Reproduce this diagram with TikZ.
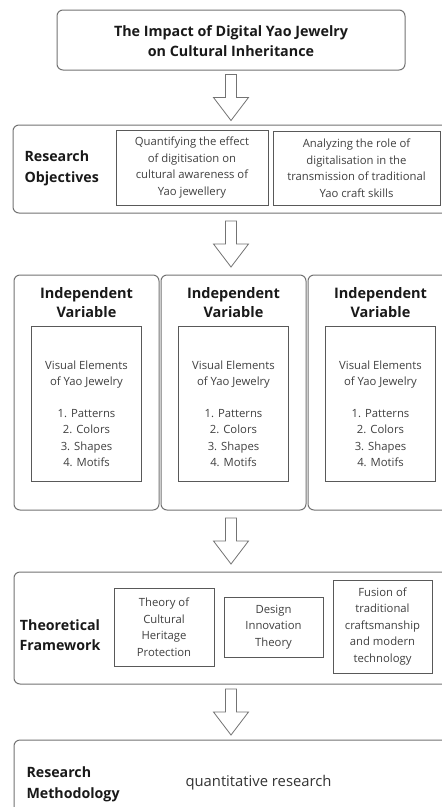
\documentclass[tikz,border=0pt]{standalone}
\usepackage{fontspec}
\setmainfont{Open Sans}
\usetikzlibrary{calc}
\tikzset{
  outerbox/.style={draw=black!55, line width=1pt, rounded corners=6pt, inner sep=0pt},
  innerbox/.style={draw=black!65, line width=0.8pt, inner sep=0pt},
  bodytext/.style={align=center, text=black!75, font=\fontsize{11.3}{16.5}\selectfont},
  headtext/.style={align=center, text=black!90, font=\bfseries\fontsize{14.5}{19}\selectfont},
  sidetext/.style={align=left, text=black!90, font=\bfseries\fontsize{14.2}{21}\selectfont},
  blockarrow/.style={draw=black!55, line width=0.8pt, fill=white, line join=miter}
}
% hollow down arrow halfway between two boxes
\newcommand{\bigarrow}[2]{%
  \draw[blockarrow] let \p1=($(#1.south)!0.5!(#2.north)$), \p2=(title.center) in
    (\x2-5.5pt,\y1+23pt) -- (\x2-5.5pt,\y1) -- (\x2-17.5pt,\y1) -- (\x2,\y1-23pt)
    -- (\x2+17.5pt,\y1) -- (\x2+5.5pt,\y1) -- (\x2+5.5pt,\y1+23pt) -- cycle;}
\begin{document}
\begin{tikzpicture}[x=1pt,y=-1pt]
  \fill[white] (0,0) rectangle (442,807);
  \clip (0,0) rectangle (442,807);
  \node[outerbox, minimum width=348pt, minimum height=60pt] (title) at (231,40) {};
  \node[headtext, font=\bfseries\fontsize{14.3}{20}\selectfont] (titletext) at (231,41.5)
        {The Impact of Digital Yao Jewelry\\on Cultural Inheritance};
%	research objectives
  \node[outerbox, minimum width=440pt, minimum height=88pt] (obj) at (233,169) {};
  \node[sidetext, anchor=west] (objlabel) at (21,168) {Research\\Objectives};
  \node[innerbox, minimum width=152pt, minimum height=75pt, bodytext] (obj1) at (192,167.5)
        {Quantifying the effect\\of digitisation on\\cultural awareness of\\Yao jewellery};
  \node[innerbox, minimum width=167pt, minimum height=74pt, bodytext] (obj2) at (356.5,168)
        {Analyzing the role of\\digitalisation in the\\transmission of traditional\\Yao craft skills};
%	three independent variables
  \foreach \n/\x in {A/86.5, B/233.5, C/380.5} {
    \node[outerbox, minimum width=145pt, minimum height=235pt] (iv\n) at (\x,392.5) {};
    \node[headtext] (iv\n head) at (\x,303) {Independent\\Variable};
    \node[innerbox, minimum width=110pt, minimum height=155pt] (vis\n) at (\x,403.5) {};
    \node[bodytext] (vis\n text) at (\x,414)
          {Visual Elements\\of Yao Jewelry\\[15pt]1. Patterns\\2. Colors\\3. Shapes\\4. Motifs};
  }
%	theoretical framework
  \node[outerbox, minimum width=440pt, minimum height=112pt] (tf) at (234,628) {};
  \node[sidetext, align=center, font=\bfseries\fontsize{14.2}{20}\selectfont] (tflabel) at (60,635)
        {Theoretical\\Framework};
  \node[innerbox, minimum width=100pt, minimum height=78pt, bodytext] (tf1) at (164,627)
        {Theory of\\Cultural\\Heritage\\Protection};
  \node[innerbox, minimum width=99pt, minimum height=60pt, bodytext] (tf2) at (273.5,627)
        {Design\\Innovation\\Theory};
  \node[innerbox, minimum width=99pt, minimum height=93pt, bodytext] (tf3) at (382.5,626.5)
        {Fusion of\\traditional\\craftsmanship\\and modern\\technology};
%	research methodology
  \node[outerbox, minimum width=440pt, minimum height=90pt] (rm) at (234,785) {};
  \node[sidetext, anchor=west] (rmlabel) at (23,784) {Research\\Methodology};
  \node[anchor=west, text=black!80, font=\fontsize{14.8}{16}\selectfont] (rmtext) at (182,783)
        {quantitative research};
%	arrows
  \bigarrow{title}{obj}
  \bigarrow{obj}{ivB}
  \bigarrow{ivB}{tf}
  \bigarrow{tf}{rm}
\end{tikzpicture}
\end{document}
